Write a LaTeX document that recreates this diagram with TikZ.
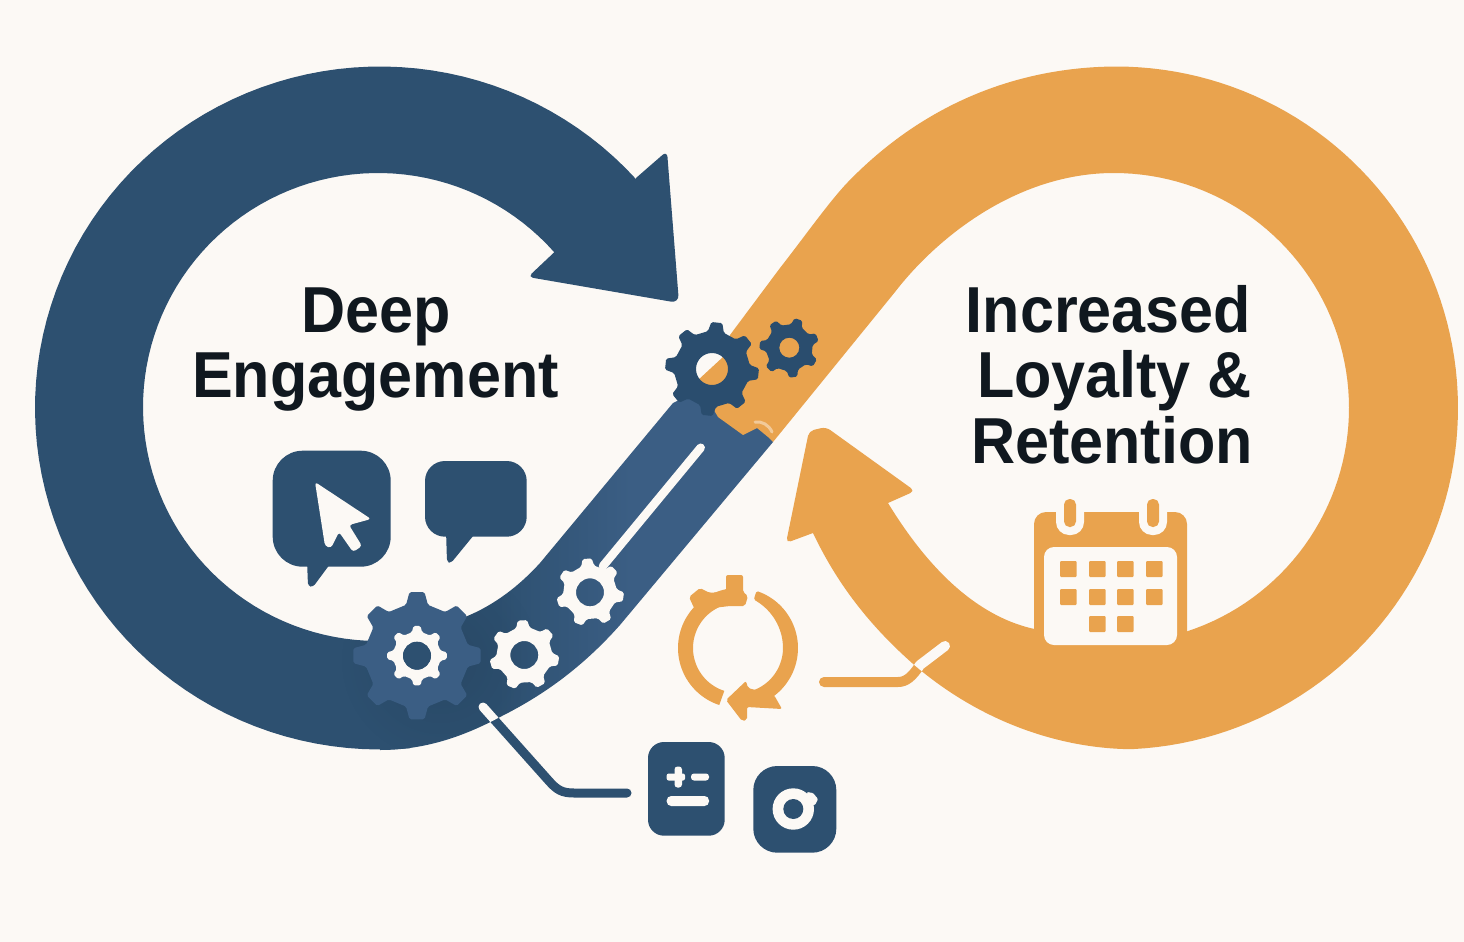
\documentclass[tikz,border=0pt]{standalone}
\usepackage{fontspec}
\setmainfont{Liberation Sans}[BoldFeatures={FakeStretch=0.94}]
\usetikzlibrary{fadings}
\definecolor{bgc}{HTML}{FCF9F5}
\definecolor{navy}{HTML}{2D5070}
\definecolor{navydk}{HTML}{2A4D6E}
\definecolor{steel}{HTML}{3B5E84}
\definecolor{amber}{HTML}{E9A34E}
\definecolor{ink}{HTML}{10181F}
\pgfdeclarehorizontalshading{bandshade}{100bp}{color(0bp)=(navy); color(40bp)=(navy); color(57bp)=(steel); color(100bp)=(steel)}
\tikzfading[name=gearglow, inner color=transparent!65, outer color=transparent!100]
\tikzset{
  headline/.style={font=\bfseries\fontsize{65}{65}\selectfont, text=ink, anchor=base, inner sep=0pt},
  wire/.style={line width=9pt, line cap=round, line join=round},
}
% \gearfill{cx}{cy}{R}{root}{hole}{rot}{teeth}{colour}
\newcommand\gearfill[8]{%
  \pgfmathsetmacro\gstep{360/#7}%
  \fill[#8, even odd rule, rounded corners=1.6pt]
    \foreach \k in {1,...,#7}{
      \ifnum\k=1 \else -- \fi
      ({#1+#3*cos(#6+\k*\gstep-0.15*\gstep)},{#2+#3*sin(#6+\k*\gstep-0.15*\gstep)}) --
      ({#1+#3*cos(#6+\k*\gstep+0.15*\gstep)},{#2+#3*sin(#6+\k*\gstep+0.15*\gstep)}) --
      ({#1+#4*cos(#6+\k*\gstep+0.27*\gstep)},{#2+#4*sin(#6+\k*\gstep+0.27*\gstep)}) --
      ({#1+#4*cos(#6+\k*\gstep+0.73*\gstep)},{#2+#4*sin(#6+\k*\gstep+0.73*\gstep)})
    } -- cycle
    (#1,#2) circle[radius=#5];
}
\begin{document}
\begin{tikzpicture}[x=1pt,y=-1pt]
\useasboundingbox (0,0) rectangle (1464,942);
\fill[bgc] (0,0) rectangle (1464,942);

% ---- blue band (under the ring so that the join does not show)
\path[shading=bandshade] (380,750) .. controls (430,750) and (470,733) .. (500,717)
  .. controls (540,697) and (580,670) .. (620,625) -- (773,442)
  -- (765,420) -- (722,395) -- (695,392) -- (673,403) -- (540,563)
  .. controls (520,585) and (495,605) .. (465,617)
  .. controls (445,627) and (420,641) .. (378,641) -- cycle;

% ---- blue ring with arrow head
\fill[navy]
  plot[domain=-42:-275,samples=90,variable=\t] ({380+345*cos(\t)},{408+341.5*sin(\t)})
  -- plot[domain=-275:-41.4,samples=90,variable=\t] ({378+235*cos(\t)},{407+234*sin(\t)})
  [rounded corners=5pt] -- (528,277) [rounded corners=8pt] -- (679,303) [rounded corners=6pt] -- (667,151)
  [sharp corners] -- (636,178) -- cycle;

% ---- shadow round the big gear, kept inside the blue shapes
\begin{scope}
  \clip plot[domain=110:85,samples=12,variable=\t] ({380+345*cos(\t)},{408+341.5*sin(\t)})
    .. controls (470,733) and (480,727) .. (500,717)
    .. controls (540,697) and (580,670) .. (620,625) -- (560,540)
    .. controls (520,585) and (495,605) .. (465,617)
    .. controls (445,627) and (420,641) .. (378,641)
    -- plot[domain=90:110,samples=8,variable=\t] ({378+235*cos(\t)},{407+234*sin(\t)}) -- cycle;
  \fill[black!70!navy, opacity=.4, path fading=gearglow] (440,660) circle[radius=100];
\end{scope}

% ---- orange ring with band and arrow
\fill[amber] (813,533)
  .. controls (840,590) and (875,630) .. (912,663)
  .. controls (975,718) and (1055,749.2) .. (1134,749.2)
  -- plot[domain=87:-90,samples=90,variable=\t] ({1116+342*cos(\t)},{408+341.5*sin(\t)})
  .. controls (1020,67) and (925,102) .. (847,183)
  .. controls (829,202) and (805,236) .. (780,268)
  -- (730,335) -- (723,357) -- (697,381)
  -- (718,417) -- (743,435) -- (757,428) -- (768,437) -- (773,442) -- (895,292)
  .. controls (935,240) and (1015,173) .. (1114,173)
  -- plot[domain=-90:110,samples=90,variable=\t] ({1114+235*cos(\t)},{408+235*sin(\t)})
  .. controls (985,618) and (935,580) .. (888,503)
  [rounded corners=5pt] -- (915,491) -- (826,427) -- (809,431) -- (786,543)
  [sharp corners] -- (813,533) -- cycle;
\draw[line width=3pt, color=amber!55!bgc, line cap=round] (755,422) .. controls (762,421) and (769,425) .. (772,432);

% ---- gears
\gearfill{712}{369}{47}{38}{16}{-84}{8}{navydk}
\gearfill{789.3}{347.7}{30}{23.5}{10}{-72}{7}{navydk}
\gearfill{417}{655.7}{64}{52}{0.01}{0}{8}{steel}
\gearfill{417}{655.7}{30}{24}{14}{0}{8}{bgc}
\fill[navy] (417,655.7) circle[radius=14];
\gearfill{524.3}{655}{35}{28}{14}{-93}{7}{bgc}
\gearfill{590}{592.3}{34}{27}{14}{-95}{7}{bgc}

% ---- slot in the band
\coordinate (slotA) at (603,566);
\coordinate (slotB) at (700.7,447.7);
\draw[wire, line width=8.5pt, color=bgc] (slotA) -- (slotB);

% ---- connector, blue
\coordinate (cA) at (483,707);
\coordinate (cB) at (627,793);
\draw[wire, color=navy] (cA) -- (549,781) .. controls (557,790) and (562,793) .. (574,793) -- (cB);
\begin{scope}
  \clip (380,750) .. controls (430,750) and (470,733) .. (500,717) -- (560,660) -- (380,640) -- cycle;
  \draw[wire, color=bgc] (cA) -- (549,781);
\end{scope}

% ---- connector, orange
\coordinate (dA) at (824,682);
\coordinate (dB) at (945,646);
\draw[wire, line width=10pt, color=amber] (dA) -- (898,682) .. controls (906,682) and (912,677) .. (920,665) -- (dB);
\begin{scope}
  \clip (912,663) .. controls (975,718) and (1055,750) .. (1134,750) -- (1134,600) -- (912,600) -- cycle;
  \draw[wire, line width=10pt, color=bgc] (898,682) .. controls (906,682) and (912,677) .. (920,665) -- (dB);
\end{scope}

% ---- bubbles
\fill[navy, rounded corners=30pt] (272.7,450.7) rectangle (390.7,566.7);
\fill[navy, rounded corners=3pt] (307,560) -- (308,586) -- (313,587) -- (333,560) -- cycle;
\fill[bgc, rounded corners=3pt] (315,482) -- (371,519) -- (349,525) -- (362,546) -- (353,552) -- (339,532) -- (331,548) -- (325,546) -- cycle;
\fill[navy, rounded corners=20pt] (425,461) rectangle (526.7,536.7);
\fill[navy, rounded corners=3pt] (446,530) -- (447,562) -- (451,563) -- (478,530) -- cycle;

% ---- refresh icon
\draw[line width=15pt, color=amber, line cap=butt] plot[domain=108:262,samples=50,variable=\t] ({738+52.5*cos(\t)},{648+52.5*sin(\t)});
\fill[amber, rounded corners=2pt] (726,575) -- (743,575) -- (743,592) -- (748,596) -- (745,606) -- (730,606) -- (695,610) -- (689,597) -- (700,588) -- (710,593) -- (726,591) -- cycle;
\fill[amber, rounded corners=1.5pt] plot[domain=-72:68,samples=50,variable=\t] ({738+60*cos(\t)},{648+60*sin(\t)})
  -- plot[domain=72:-72,samples=50,variable=\t] ({738+(45+6*(min(\t,0)/72)*(min(\t,0)/72))*cos(\t)},{648+(45+6*(min(\t,0)/72)*(min(\t,0)/72))*sin(\t)}) -- cycle;
\fill[amber, rounded corners=2pt] (726,700) -- (746,681) -- (748,688) -- (774,695) -- (782,709) -- (747,707) -- (747,720) -- (742,721) -- cycle;

% ---- calculator tile
\fill[navy, rounded corners=16pt] (648,742) rectangle (724.7,835.7);
\fill[bgc, rounded corners=2pt] (666.7,773.5) rectangle (685,780.5);
\fill[bgc, rounded corners=3pt] (674.5,766.5) rectangle (682,787.5);
\fill[bgc, rounded corners=3pt] (691,773.5) rectangle (709,780.5);
\fill[bgc, rounded corners=4.5pt] (666.7,796) rectangle (709,806);

% ---- gear tile
\fill[navy, rounded corners=24pt] (753.3,766) rectangle (836.3,852.7);
\fill[bgc] (793.3,809) circle[radius=20.7];
\fill[bgc, rounded corners=1pt] (807,792) -- (813,793) -- (818,799) -- (815,805) -- (809,805) -- cycle;
\fill[navy] (804,788) circle[radius=2];
\fill[navy] (793.3,809) circle[radius=10];

% ---- calendar
\fill[amber, rounded corners=12pt] (1034,656) -- (1034,512) -- (1187,512) -- (1187,656) -- cycle;
\fill[bgc, rounded corners=10pt] (1044,547) rectangle (1177,645);
\foreach \px in {1070,1153}{
  \fill[bgc, rounded corners=13pt] (\px-14,490) rectangle (\px+14,535);
  \fill[amber, rounded corners=5.5pt] (\px-6,499) rectangle (\px+6,527);
}
\foreach \qx/\qy in {1060/561,1089/561,1117/561,1146/561,1060/589,1089/589,1117/589,1146/589,1089/616,1117/616}{
  \fill[amber, rounded corners=1pt] (\qx,\qy) rectangle ++(16.5,16);
}

% ---- headlines
\node[headline] (t1) at (376,332) {Deep};
\node[headline] (t2) at (375.5,397) {Engagement};
\node[headline] (t3) at (1108.5,332) {Increased};
\node[headline] (t4) at (1114.5,397) {Loyalty \&};
\node[headline] (t5) at (1112,463) {Retention};
\end{tikzpicture}
\end{document}
